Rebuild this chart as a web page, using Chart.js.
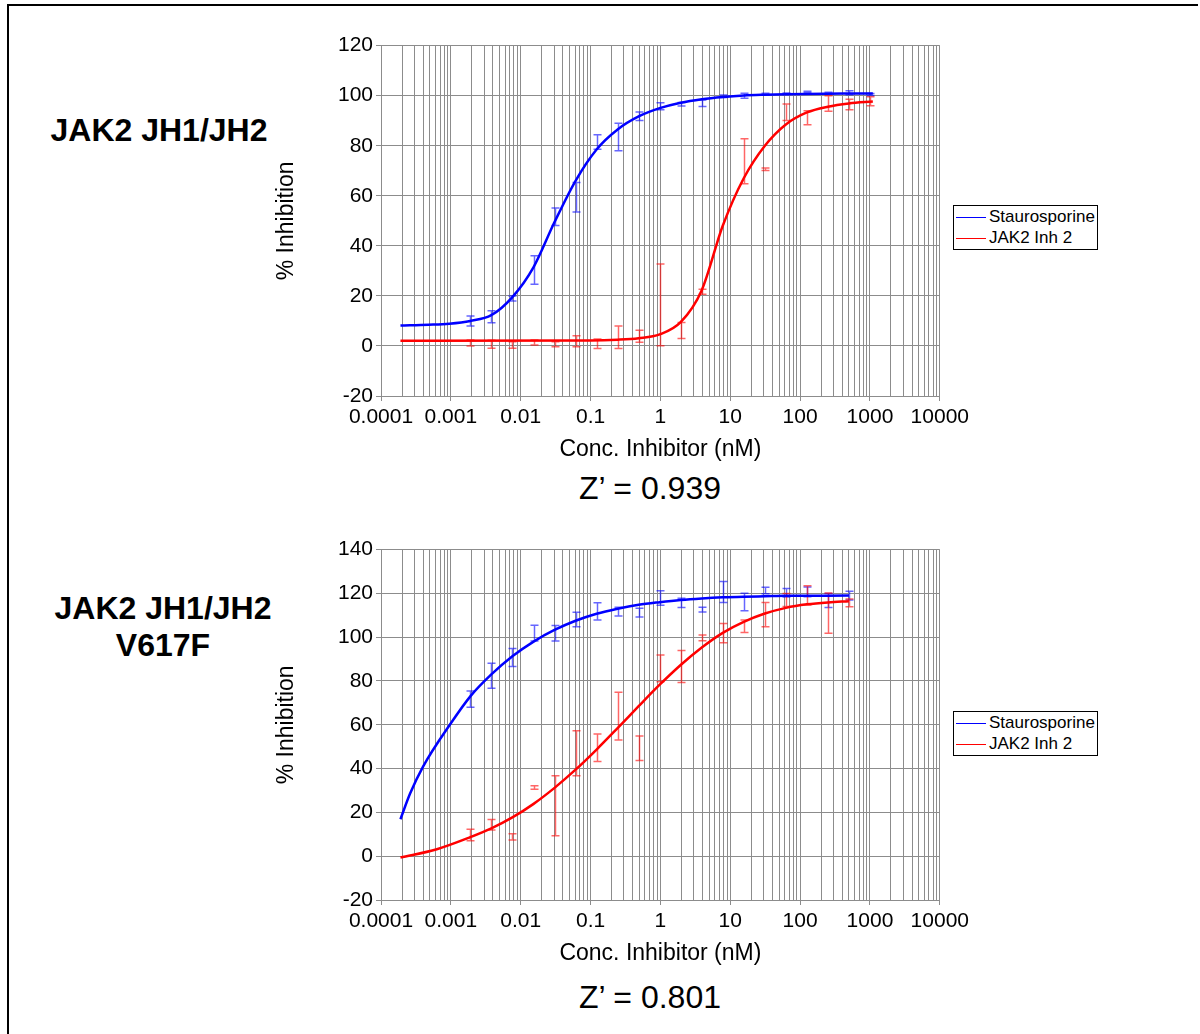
<!DOCTYPE html>
<html>
<head>
<meta charset="utf-8">
<script src="https://cdn.jsdelivr.net/npm/chart.js@4.4.1/dist/chart.umd.min.js"></script>
<style>
  body { margin: 0; background: #fff; font-family: Arial, "Liberation Sans", sans-serif; }
  #page { position: relative; width: 1200px; height: 1034px; overflow: hidden; background: #fff; }
  .frame { position: absolute; left: 7px; top: 4px; width: 1189px; height: 1100px; border-top: 2px solid #000; border-left: 2px solid #000; }
  .side-title { position: absolute; width: 300px; text-align: center; font-weight: bold; font-size: 32px; line-height: 37px; color: #000; }
  .zprime { position: absolute; width: 300px; left: 500px; text-align: center; font-size: 32px; line-height: 36px; color: #000; }
  .chart-box { position: absolute; left: 270px; width: 703px; height: 433px; }
  .legend { position: absolute; left: 953px; width: 143px; height: 43px; border: 1px solid #000; background: #fff; font-size: 17px; color: #000; }
  .legend div { height: 21px; line-height: 21px; white-space: nowrap; }
  .legend span.swatch { display: inline-block; width: 30px; height: 0; vertical-align: middle; margin: 0 3px 0 2px; }
</style>
</head>
<body>
<div id="page">
  <div class="frame"></div>

  <div class="side-title" style="left: 9px; top: 112px;">JAK2 JH1/JH2</div>
  <div class="side-title" style="left: 13px; top: 590px;">JAK2 JH1/JH2<br>V617F</div>

  <div class="chart-box" style="top: 30px;"><canvas id="chartTop"></canvas></div>
  <div class="chart-box" style="top: 534px;"><canvas id="chartBottom"></canvas></div>

  <div class="legend" style="top: 205px;">
    <div><span class="swatch" style="border-top: 1px solid #0000ff;"></span>Staurosporine</div>
    <div><span class="swatch" style="border-top: 1px solid #ff0000;"></span>JAK2 Inh 2</div>
  </div>
  <div class="legend" style="top: 711px;">
    <div><span class="swatch" style="border-top: 1px solid #0000ff;"></span>Staurosporine</div>
    <div><span class="swatch" style="border-top: 1px solid #ff0000;"></span>JAK2 Inh 2</div>
  </div>

  <div class="zprime" style="top: 470px;">Z’ = 0.939</div>
  <div class="zprime" style="top: 979px;">Z’ = 0.801</div>
</div>

<script>
// Axis labels
const xTickLabels = ['0.0001', '0.001', '0.01', '0.1', '1', '10', '100', '1000', '10000'];
const yTicksTop = [-20, 0, 20, 40, 60, 80, 100, 120];
const yTicksBottom = [-20, 0, 20, 40, 60, 80, 100, 120, 140];

// 2-fold dilution series (nM)
const concTop = [0.0019, 0.0038, 0.0076, 0.0153, 0.0305, 0.061, 0.122, 0.244, 0.488, 0.977,
                 1.95, 3.91, 7.81, 15.6, 31.3, 62.5, 125, 250, 500, 1000];
const concBottom = concTop.slice(0, 19);

// JAK2 JH1/JH2 - measured points (mean, +/- error)
const stauroTopMean = [10.0, 11.7, 19.0, 30.3, 51.6, 59.4, 81.5, 83.5, 91.8, 95.8,
                       96.6, 97.0, 99.8, 100.0, 100.7, 100.8, 101.5, 101.0, 101.2, 100.5];
const stauroTopErr  = [2.0, 2.4, 1.0, 5.7, 3.5, 5.9, 2.9, 5.5, 1.7, 1.4,
                       0.7, 1.3, 0.5, 1.0, 0.3, 0.3, 0.3, 0.4, 0.8, 0.4];
const inhTopMean = [1.2, 0.7, 0.4, 1.4, 0.7, 1.9, 0.9, 3.5, 3.9, 16.4,
                    6.2, 21.7, null, 73.8, 70.6, 93.4, 91.2, 96.9, 96.5, 97.8];
const inhTopErr  = [1.2, 1.6, 1.3, 1.0, 1.0, 2.2, 1.9, 4.5, 2.4, 16.3,
                    3.2, 1.0, 0, 9.0, 0.5, 3.3, 2.8, 3.1, 2.1, 1.8];

// JAK2 JH1/JH2 - fitted curves
const stauroTopFitX = [0.00019, 0.00048, 0.00095, 0.0019, 0.0038, 0.0076, 0.0153, 0.0305, 0.061, 0.122,
                       0.244, 0.488, 0.977, 1.95, 3.91, 7.81, 15.6, 31.3, 62.5, 1100];
const stauroTopFitY = [8.2, 8.5, 8.9, 10.0, 12.3, 19.5, 31.5, 49.5, 66.0, 78.5,
                       86.5, 91.7, 95.0, 97.2, 98.6, 99.5, 100.1, 100.4, 100.6, 100.9];
const inhTopFitX = [0.00019, 0.1, 0.244, 0.488, 0.977, 1.95, 3.91, 7.81, 15.6, 31.3,
                    62.5, 125, 250, 500, 1100];
const inhTopFitY = [2.1, 2.2, 2.5, 3.1, 4.6, 9.5, 22.3, 48.0, 67.0, 80.0,
                    88.5, 93.3, 95.6, 96.9, 97.7];

// JAK2 JH1/JH2 V617F - measured points
const stauroBottomMean = [71.7, 82.4, 90.7, 101.9, 101.8, 108.1, 111.8, 111.7, 111.2, 117.9,
                          115.7, 112.6, 120.6, 116.1, 121.3, 120.3, 120.7, 116.8, 119.0];
const stauroBottomErr  = [3.7, 5.7, 4.1, 3.6, 3.5, 3.3, 3.9, 2.0, 2.0, 3.3,
                          2.1, 1.1, 4.8, 4.0, 1.5, 1.9, 2.2, 3.2, 2.0];
const inhBottomMean = [9.7, 14.4, 8.8, 31.4, 23.0, 47.0, 49.5, 64.0, 49.3, 85.8,
                       86.6, 99.7, 101.9, 105.0, 110.3, 117.0, 119.1, 111.0, 115.7];
const inhBottomErr  = [2.6, 2.4, 1.4, 0.8, 13.7, 10.3, 6.3, 10.9, 5.6, 6.1,
                       7.3, 1.3, 4.4, 2.9, 5.5, 3.0, 4.4, 9.2, 1.8];

// JAK2 JH1/JH2 V617F - fitted curves
const stauroBottomFitX = [0.00019, 0.00026, 0.0004, 0.001, 0.0019, 0.0038, 0.0076, 0.0153, 0.0305, 0.061,
                          0.122, 0.244, 0.488, 0.977, 1.95, 3.91, 7.81, 15.6, 31.3, 62.5, 500];
const stauroBottomFitY = [16.9, 28.5, 40.9, 60.7, 73.0, 83.0, 91.3, 98.0, 103.3, 107.5,
                          110.7, 113.0, 114.8, 116.0, 117.0, 117.7, 118.2, 118.5, 118.7, 118.9, 119.0];
const inhBottomFitX = [0.00019, 0.00063, 0.0019, 0.0038, 0.0076, 0.0153, 0.0305, 0.061, 0.122, 0.244,
                       0.488, 0.977, 1.95, 3.91, 7.81, 15.6, 31.3, 62.5, 125, 250, 500];
const inhBottomFitY = [-0.6, 3.2, 8.7, 12.7, 17.7, 23.9, 31.2, 39.5, 48.7, 58.5,
                       68.5, 78.3, 87.3, 95.3, 102.0, 107.0, 110.8, 113.4, 115.0, 115.9, 116.4];

const BLUE = '#0000ff';
const RED = '#ff0000';
const GRID = '#8c8c8c';
const FONT = 'Arial, "Liberation Sans", sans-serif';

// decades + 2..9 minor lines for the log axis
const xDecades = xTickLabels.map(Number);
const xGrid = [];
xDecades.forEach((d, i) => {
    xGrid.push(d);
    if (i < xDecades.length - 1) {
        for (let m = 2; m <= 9; m++) xGrid.push(d * m);
    }
});

// Draw error bars (vertical line with caps) under the curves
const errorBarPlugin = {
    id: 'errorBars',
    beforeDatasetsDraw(chart) {
        const ctx = chart.ctx;
        const xs = chart.scales.x;
        const ys = chart.scales.y;
        const area = chart.chartArea;
        ctx.save();
        ctx.beginPath();
        ctx.rect(area.left, area.top, area.right - area.left, area.bottom - area.top);
        ctx.clip();
        chart.data.datasets.forEach(ds => {
            if (!ds.errors) return;
            ctx.strokeStyle = ds.errorColor;
            ctx.lineWidth = 1.5;
            ds.data.forEach((p, i) => {
                if (p.y === null) return;
                const x = Math.round(xs.getPixelForValue(p.x)) + 0.5;
                const yTop = ys.getPixelForValue(p.y + ds.errors[i]);
                const yBot = ys.getPixelForValue(p.y - ds.errors[i]);
                ctx.beginPath();
                ctx.moveTo(x, yTop);
                ctx.lineTo(x, yBot);
                ctx.moveTo(x - 4, yTop);
                ctx.lineTo(x + 4, yTop);
                ctx.moveTo(x - 4, yBot);
                ctx.lineTo(x + 4, yBot);
                ctx.stroke();
            });
        });
        ctx.restore();
    }
};

function toPoints(xs, ys) {
    return xs.map((x, i) => ({ x: x, y: ys[i] }));
}

function buildChart(canvasId, yTicks, fits, measured) {
    const datasets = [];
    fits.forEach(f => {
        datasets.push({
            label: f.label,
            data: toPoints(f.x, f.y),
            borderColor: f.color,
            borderWidth: 2.5,
            pointRadius: 0,
            cubicInterpolationMode: 'monotone',
            fill: false
        });
    });
    measured.forEach(m => {
        datasets.push({
            label: m.label + ' data',
            data: toPoints(m.conc, m.mean),
            errors: m.err,
            errorColor: m.color,
            showLine: false,
            pointRadius: 0
        });
    });

    const ctx = document.getElementById(canvasId).getContext('2d');
    return new Chart(ctx, {
        type: 'line',
        data: { datasets: datasets },
        plugins: [errorBarPlugin],
        options: {
            responsive: true,
            maintainAspectRatio: false,
            animation: false,
            layout: { padding: { left: 3, top: 15, right: 30, bottom: 0 } },
            plugins: {
                legend: { display: false },
                tooltip: { enabled: false }
            },
            scales: {
                x: {
                    type: 'logarithmic',
                    min: xDecades[0],
                    max: xDecades[xDecades.length - 1],
                    afterBuildTicks: (scale) => {
                        scale.ticks = xGrid.map(v => ({ value: v }));
                    },
                    afterFit: (scale) => { scale.height = 67; },
                    ticks: {
                        autoSkip: false,
                        maxRotation: 0,
                        minRotation: 0,
                        padding: 4,
                        color: '#000',
                        font: { family: FONT, size: 21 },
                        callback: (value) => {
                            const i = xDecades.indexOf(value);
                            return i >= 0 ? xTickLabels[i] : '';
                        }
                    },
                    grid: {
                        color: GRID,
                        lineWidth: 1,
                        tickLength: 5,
                        tickColor: (c) => (c.tick && xDecades.includes(c.tick.value)) ? GRID : 'rgba(0,0,0,0)'
                    },
                    border: { display: true, color: GRID, width: 1 },
                    title: {
                        display: true,
                        text: 'Conc. Inhibitor (nM)',
                        color: '#000',
                        padding: 0,
                        font: { family: FONT, size: 23 }
                    }
                },
                y: {
                    type: 'linear',
                    min: yTicks[0],
                    max: yTicks[yTicks.length - 1],
                    afterFit: (scale) => { scale.width = 108; },
                    ticks: {
                        stepSize: 20,
                        padding: 3,
                        color: '#000',
                        font: { family: FONT, size: 21 }
                    },
                    grid: {
                        color: GRID,
                        lineWidth: 1,
                        tickLength: 5,
                        tickColor: GRID
                    },
                    border: { display: true, color: GRID, width: 1 },
                    title: {
                        display: true,
                        text: '% Inhibition',
                        color: '#000',
                        padding: 0,
                        font: { family: FONT, size: 23 }
                    }
                }
            }
        }
    });
}

document.addEventListener('DOMContentLoaded', () => {
    buildChart('chartTop', yTicksTop,
        [
            { label: 'Staurosporine', x: stauroTopFitX, y: stauroTopFitY, color: BLUE },
            { label: 'JAK2 Inh 2', x: inhTopFitX, y: inhTopFitY, color: RED }
        ],
        [
            { label: 'Staurosporine', conc: concTop, mean: stauroTopMean, err: stauroTopErr, color: 'rgba(0,0,255,0.6)' },
            { label: 'JAK2 Inh 2', conc: concTop, mean: inhTopMean, err: inhTopErr, color: 'rgba(255,0,0,0.6)' }
        ]);

    buildChart('chartBottom', yTicksBottom,
        [
            { label: 'Staurosporine', x: stauroBottomFitX, y: stauroBottomFitY, color: BLUE },
            { label: 'JAK2 Inh 2', x: inhBottomFitX, y: inhBottomFitY, color: RED }
        ],
        [
            { label: 'Staurosporine', conc: concBottom, mean: stauroBottomMean, err: stauroBottomErr, color: 'rgba(0,0,255,0.6)' },
            { label: 'JAK2 Inh 2', conc: concBottom, mean: inhBottomMean, err: inhBottomErr, color: 'rgba(255,0,0,0.6)' }
        ]);
});
</script>
</body>
</html>
